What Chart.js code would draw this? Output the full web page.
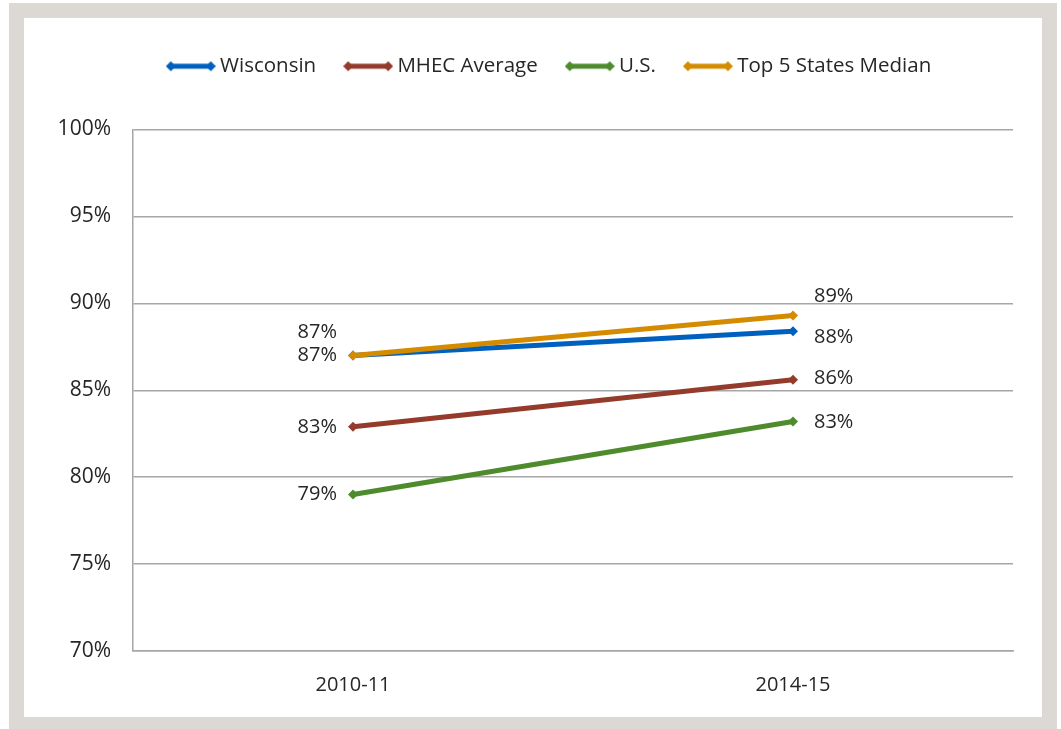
<!DOCTYPE html>
<html lang="en">
<head>
<meta charset="UTF-8">
<title>Completion rates</title>
<style>
  html, body { margin: 0; padding: 0; background: #fff; }
  .frame {
    position: absolute; left: 9px; top: 3px;
    width: 1018px; height: 699px;
    border: 15px solid #dcd8d4; border-bottom-width: 12px;
    background: #fff;
  }
  canvas { display: block; }
</style>
</head>
<body>
<div class="frame"><canvas id="myChart" width="1018" height="699"></canvas></div>

<script src="https://cdn.jsdelivr.net/npm/chart.js"></script>
<script>
// values (percent)
const years = ['2010-11', '2014-15'];
const seriesNames = ['Wisconsin', 'MHEC Average', 'U.S.', 'Top 5 States Median'];
const wisconsin = [87.0, 88.4];
const mhec = [82.9, 85.6];
const us = [79.0, 83.2];
const top5 = [87.0, 89.3];
const yMin = 70, yMax = 100, yStep = 5;

const colors = ['#0060bf', '#943b2b', '#4e8b2c', '#d48b00'];
const FONT = '"Open Sans", sans-serif';
const TEXT = '#262626';

// legend marker: line with a diamond at each end
function makeMarker(color) {
   const c = document.createElement('canvas');
   c.width = 50; c.height = 12;
   const g = c.getContext('2d');
   g.strokeStyle = color; g.fillStyle = color; g.lineWidth = 5;
   g.beginPath(); g.moveTo(5, 6); g.lineTo(45, 6); g.stroke();
   [5, 45].forEach(x => {
      g.beginPath();
      g.moveTo(x - 5, 6); g.lineTo(x, 1); g.lineTo(x + 5, 6); g.lineTo(x, 11);
      g.closePath(); g.fill();
   });
   return c;
}
const markers = colors.map(makeMarker);

// label offsets per series, per point: [dx, dy, align]
const labelPos = [
   [[-16, 0, 'right'], [21, 6, 'left']],
   [[-16, 1, 'right'], [21, -2, 'left']],
   [[-16, 0, 'right'], [21, 1, 'left']],
   [[-16, -23, 'right'], [21, -19, 'left']]
];

const valueLabels = {
   id: 'valueLabels',
   afterDatasetsDraw(chart) {
      const ctx = chart.ctx;
      ctx.save();
      ctx.font = '20px ' + FONT;
      ctx.fillStyle = TEXT;
      ctx.textBaseline = 'middle';
      chart.data.datasets.forEach((ds, i) => {
         const meta = chart.getDatasetMeta(i);
         meta.data.forEach((pt, j) => {
            const [dx, dy, align] = labelPos[i][j];
            ctx.textAlign = align;
            ctx.fillText(Math.round(ds.data[j]) + '%', pt.x + dx, pt.y + dy);
         });
      });
      ctx.restore();
   }
};

// extra room under the legend, and nudge it right like the original
const legendTweak = {
   id: 'legendTweak',
   beforeLayout(chart) {
      const lg = chart.legend;
      if (!lg || lg._patched) return;
      const fit = lg.fit;
      lg.fit = function () { fit.call(this); this.height += 43; };
      const draw = lg.draw;
      lg.draw = function () {
         this.ctx.save();
         this.ctx.translate(33, 0);
         draw.apply(this, arguments);
         this.ctx.restore();
      };
      lg._patched = true;
   }
};

const allSeries = [wisconsin, mhec, us, top5];

new Chart(document.getElementById('myChart'), {
   type: 'line',
   data: {
      labels: years,
      datasets: allSeries.map((vals, i) => ({
         label: seriesNames[i],
         data: vals,
         borderColor: colors[i],
         backgroundColor: colors[i],
         borderWidth: 5,
         pointStyle: 'rectRot',
         pointRadius: 5,
         pointBorderWidth: 0,
         tension: 0,
         order: i === 3 ? -1 : i
      }))
   },
   plugins: [valueLabels, legendTweak],
   options: {
      responsive: false,
      animation: false,
      layout: { padding: { top: 5, right: 29, left: 0, bottom: 0 } },
      plugins: {
         tooltip: { enabled: false },
         legend: {
            position: 'top',
            labels: {
               usePointStyle: true,
               pointStyleWidth: 38,
               padding: 33,
               color: TEXT,
               font: { family: FONT, size: 20.5 },
               generateLabels: (chart) => chart.data.datasets.map((ds, i) => ({
                  text: ds.label,
                  pointStyle: markers[i],
                  fillStyle: colors[i],
                  strokeStyle: colors[i],
                  lineWidth: 0,
                  hidden: false,
                  datasetIndex: i,
                  fontColor: TEXT
               }))
            }
         }
      },
      scales: {
         x: {
            offset: true,
            grid: { display: false },
            border: { display: true, color: '#a6a6a6', width: 1.5 },
            ticks: { color: TEXT, font: { family: FONT, size: 20 }, padding: 14 },
            afterFit: (s) => { s.height = 66; }
         },
         y: {
            min: yMin, max: yMax,
            grid: { color: '#a6a6a6', lineWidth: 1.5, drawTicks: false },
            border: { display: true, color: '#a6a6a6', width: 1.5 },
            ticks: {
               stepSize: yStep,
               padding: 22,
               color: TEXT,
               font: { family: FONT, size: 21 },
               callback: (v) => v + '%'
            },
            afterFit: (s) => { s.width = 109; }
         }
      }
   }
});
</script>
</body>
</html>
